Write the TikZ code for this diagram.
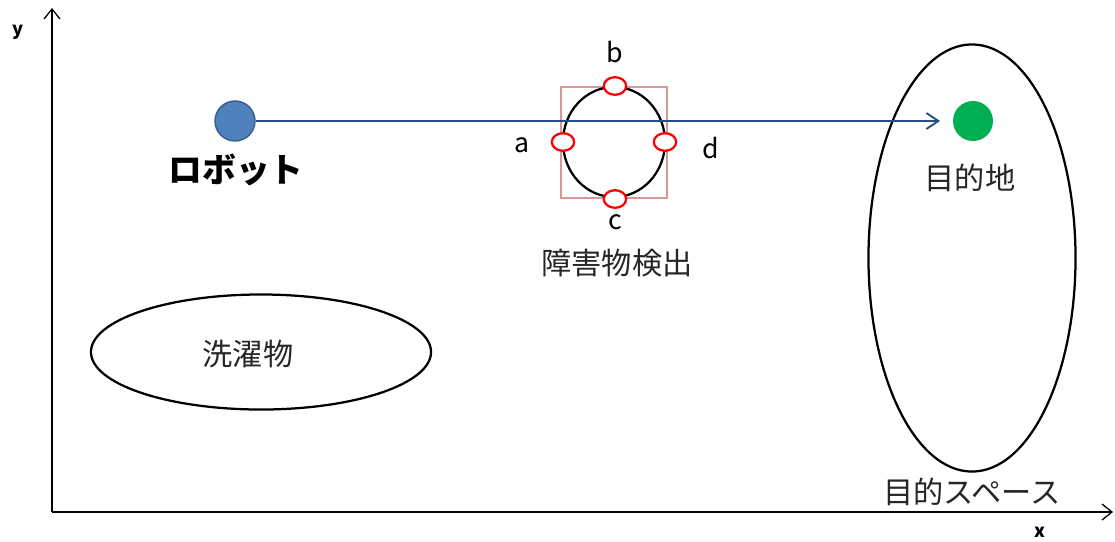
\documentclass[tikz,border=0pt]{standalone}
\usepackage{fontspec}
\setmainfont{Noto Sans CJK JP}
\usepackage{tikz}
\usetikzlibrary{shapes.geometric, arrows.meta, positioning}
\definecolor{robotblue}{RGB}{79,129,189}
\definecolor{robotedge}{RGB}{56,93,138}
\definecolor{pathblue}{RGB}{40,76,132}
\definecolor{goalgreen}{RGB}{0,176,80}
\definecolor{boxred}{RGB}{217,150,148}
\tikzset{
  area/.style={ellipse, draw=black, line width=1.6pt, inner sep=0pt},
  spot/.style={circle, minimum size=1cm, inner sep=0pt},
  probe/.style={ellipse, draw=red, line width=1.6pt, fill=white, minimum width=0.56cm, minimum height=0.44cm, inner sep=0pt},
  jp/.style={font=\fontsize{21.5}{25}\selectfont, text=black!85},
  letter/.style={font=\fontsize{19}{22}\selectfont},
  axislabel/.style={font=\fontsize{13}{15}\selectfont\bfseries},
  axis/.style={-{Straight Barb[length=2.5mm, width=4mm]}, line width=0.9pt},
  route/.style={-{Straight Barb[length=3mm, width=4mm]}, pathblue, line width=1.3pt}
}

\begin{document}
\begin{tikzpicture}[x=0.025cm, y=-0.025cm]
  \useasboundingbox (0,0) rectangle (1115,541);
  % axes
  \coordinate (origin) at (52,512);
  \coordinate (ytop) at (52,8);
  \coordinate (xend) at (1113,512);
  \draw[axis] (origin) -- (ytop);
  \draw[axis] (origin) -- (xend);
  \node[axislabel] (ylab) at (18,32) {y};
  \node[axislabel] (xlab) at (1040,532) {x};

  % areas
  \node[area, minimum width=8.5cm, minimum height=2.875cm] (laundry) at (261,352) {};
  \node[jp] (laundrylab) at (248,354) {洗濯物};
  \node[area, minimum width=5.175cm, minimum height=10.675cm] (space) at (972,258) {};
  \node[jp] (spacelab) at (972,492) {目的スペース};

  % obstacle
  \node[draw=boxred, line width=1pt, minimum width=2.65cm, minimum height=2.775cm, inner sep=0pt] (box) at (614,142.5) {};
  \node[area, minimum width=2.55cm, minimum height=2.75cm] (obst) at (614,142) {};
  \node[jp] (obstlab) at (617,263) {障害物検出};

  % robot and goal
  \node[spot, fill=robotblue, draw=robotedge, line width=1pt] (robot) at (235,121) {};
  \node[jp, font=\fontsize{24}{28}\selectfont\bfseries, text=black] (robotlab) at (236,170) {ロボット};
  \node[spot, fill=goalgreen] (goal) at (973,121) {};
  \node[jp] (goallab) at (970,178) {目的地};
  \coordinate (routeend) at (940,121);
  \draw[route] (robot) -- (routeend);

  % detection points
  \node[probe] (pb) at (615,86) {};
  \node[probe] (pa) at (563,142) {};
  \node[probe] (pd) at (665,142) {};
  \node[probe] (pc) at (615,199) {};
  \node[letter] (lb) at (615,52) {b};
  \node[letter] (la) at (522,145) {a};
  \node[letter] (ld) at (711,148) {d};
  \node[letter] (lc) at (615,222) {c};
\end{tikzpicture}
\end{document}
